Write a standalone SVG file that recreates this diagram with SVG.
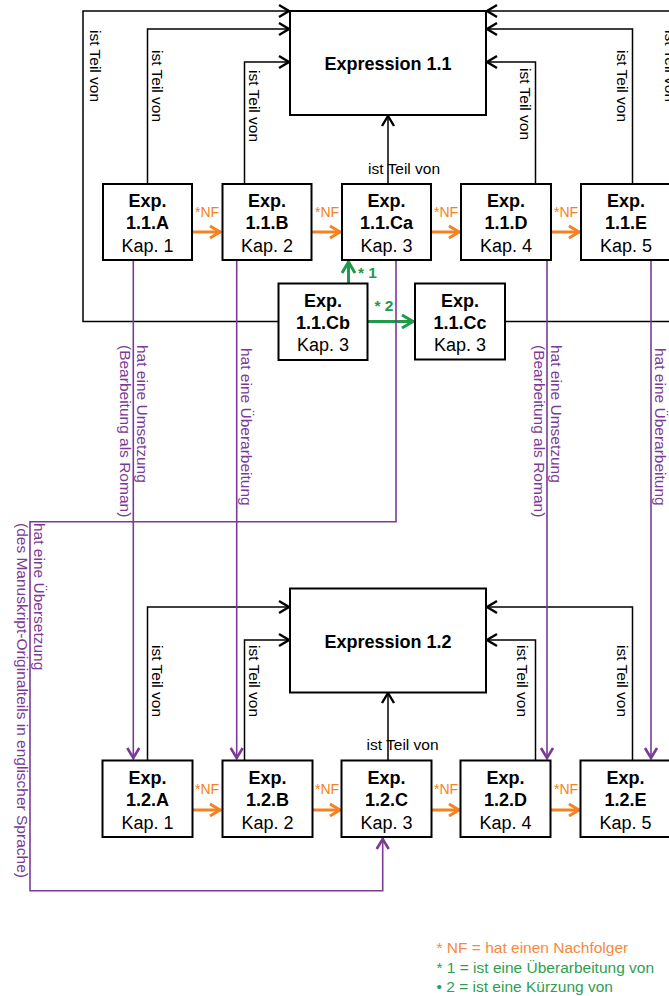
<svg xmlns="http://www.w3.org/2000/svg" width="669" height="996" viewBox="0 0 669 996">
<style>
text{font-family:"Liberation Sans",Arial,sans-serif}
.box{fill:#fff;stroke:#000;stroke-width:2}
.nb{font-size:18px;font-weight:bold;text-anchor:middle}
.nr{font-size:18px;text-anchor:middle}
.blk{fill:none;stroke:#000;stroke-width:1.5}
.org{fill:none;stroke:#F58220;stroke-width:3}
.grn{fill:none;stroke:#1E9A48;stroke-width:3}
.pur{fill:none;stroke:#7A3A96;stroke-width:1.6}
.lbl{font-size:15.5px;fill:#000}
.plbl{font-size:15.5px;fill:#7A3A96}
.nf{font-size:14px;fill:#F58220}
.gl{font-size:15.5px;font-weight:bold;fill:#1E9A48}
</style>
<defs>
<marker id="ab" viewBox="-12 -8 14 16" markerWidth="14" markerHeight="16" refX="0" refY="0" orient="auto" markerUnits="userSpaceOnUse"><path d="M-10,-6 L0,0 L-10,6" fill="none" stroke="#000" stroke-width="2.4"/></marker>
<marker id="ao" viewBox="-13 -8 15 16" markerWidth="15" markerHeight="16" refX="0" refY="0" orient="auto" markerUnits="userSpaceOnUse"><path d="M-11,-6 L-1,0 L-11,6" fill="none" stroke="#F58220" stroke-width="3"/></marker>
<marker id="ag" viewBox="-14 -9 16 18" markerWidth="16" markerHeight="18" refX="0" refY="0" orient="auto" markerUnits="userSpaceOnUse"><path d="M-12,-6.5 L-1,0 L-12,6.5" fill="none" stroke="#1E9A48" stroke-width="3"/></marker>
<marker id="ap" viewBox="-13 -8 15 16" markerWidth="15" markerHeight="16" refX="0" refY="0" orient="auto" markerUnits="userSpaceOnUse"><path d="M-11,-6 L-1,0 L-11,6" fill="none" stroke="#7A3A96" stroke-width="2.6"/></marker>
</defs>

<g id="connectors">
<path class="blk" d="M278,321.5 H83 V11 H289" marker-end="url(#ab)"/>
<path class="blk" d="M147.5,184 V29 H289" marker-end="url(#ab)"/>
<path class="blk" d="M244.5,184 V62 H289" marker-end="url(#ab)"/>
<path class="blk" d="M388,184 V116" marker-end="url(#ab)"/>
<path class="blk" d="M535.5,184 V62 H487" marker-end="url(#ab)"/>
<path class="blk" d="M632.5,184 V29 H487" marker-end="url(#ab)"/>
<path class="blk" d="M505,321.5 H690 V11 H487" marker-end="url(#ab)"/>
<path class="blk" d="M147.5,760.5 V607 H289" marker-end="url(#ab)"/>
<path class="blk" d="M244.5,760.5 V640 H289" marker-end="url(#ab)"/>
<path class="blk" d="M388,760.5 V693" marker-end="url(#ab)"/>
<path class="blk" d="M535.5,760.5 V640 H487" marker-end="url(#ab)"/>
<path class="blk" d="M632.5,760.5 V607 H487" marker-end="url(#ab)"/>
<path class="org" d="M192,232 H221" marker-end="url(#ao)"/>
<path class="org" d="M312,232 H341" marker-end="url(#ao)"/>
<path class="org" d="M431,232 H460" marker-end="url(#ao)"/>
<path class="org" d="M551,232 H580" marker-end="url(#ao)"/>
<path class="org" d="M192.5,810 H221" marker-end="url(#ao)"/>
<path class="org" d="M312.5,810 H341" marker-end="url(#ao)"/>
<path class="org" d="M431.5,810 H460" marker-end="url(#ao)"/>
<path class="org" d="M550.5,810 H580" marker-end="url(#ao)"/>
<path class="grn" d="M348.5,283 V261" marker-end="url(#ag)"/>
<path class="grn" d="M367,321.5 H414" marker-end="url(#ag)"/>
<path class="pur" d="M133.3,260 V759" marker-end="url(#ap)"/>
<path class="pur" d="M236.7,260 V759" marker-end="url(#ap)"/>
<path class="pur" d="M396,260 V521.7 H30 V890.7 H382.7 V838" marker-end="url(#ap)"/>
<path class="pur" d="M547,260 V759" marker-end="url(#ap)"/>
<path class="pur" d="M651,260 V759" marker-end="url(#ap)"/>

<text class="lbl" transform="translate(89.5,30) rotate(90)">ist Teil von</text>
<text class="lbl" transform="translate(151.5,50) rotate(90)">ist Teil von</text>
<text class="lbl" transform="translate(248.5,70) rotate(90)">ist Teil von</text>
<text class="lbl" transform="translate(519.5,68) rotate(90)">ist Teil von</text>
<text class="lbl" transform="translate(616.5,50) rotate(90)">ist Teil von</text>
<text class="lbl" transform="translate(664.5,30) rotate(90)">ist Teil von</text>
<text class="lbl" x="368" y="174">ist Teil von</text>
<text class="lbl" transform="translate(151.5,645) rotate(90)">ist Teil von</text>
<text class="lbl" transform="translate(248.5,645) rotate(90)">ist Teil von</text>
<text class="lbl" transform="translate(516.5,645) rotate(90)">ist Teil von</text>
<text class="lbl" transform="translate(616.5,645) rotate(90)">ist Teil von</text>
<text class="lbl" x="366.5" y="750">ist Teil von</text>

<text class="nf" x="195" y="217">*NF</text>
<text class="nf" x="315" y="217">*NF</text>
<text class="nf" x="434" y="217">*NF</text>
<text class="nf" x="554" y="217">*NF</text>
<text class="nf" x="195" y="794">*NF</text>
<text class="nf" x="315" y="794">*NF</text>
<text class="nf" x="434" y="794">*NF</text>
<text class="nf" x="554" y="794">*NF</text>

<text class="gl" x="358" y="277.5">* 1</text>
<text class="gl" x="374.5" y="311">* 2</text>

<text class="plbl" transform="translate(136.5,345) rotate(90)">hat eine Umsetzung</text>
<text class="plbl" transform="translate(119.5,345) rotate(90)">(Bearbeitung als Roman)</text>
<text class="plbl" transform="translate(241,348) rotate(90)">hat eine Überarbeitung</text>
<text class="plbl" transform="translate(33.5,523) rotate(90)">hat eine Übersetzung</text>
<text class="plbl" transform="translate(16.5,523) rotate(90)">(des Manuskript-Originalteils in englischer Sprache)</text>
<text class="plbl" transform="translate(550.5,345) rotate(90)">hat eine Umsetzung</text>
<text class="plbl" transform="translate(533.5,345) rotate(90)">(Bearbeitung als Roman)</text>
<text class="plbl" transform="translate(655,348) rotate(90)">hat eine Überarbeitung</text>
</g>

<g id="expr11"><rect class="box" x="290" y="11" width="196" height="104"/><text class="nb" x="388" y="70">Expression 1.1</text></g>
<g id="expr12"><rect class="box" x="290" y="588.5" width="196" height="104"/><text class="nb" x="388" y="647.5">Expression 1.2</text></g>

<g id="n11A"><rect class="box" x="103" y="184" width="89" height="76"/><text class="nb" x="147.5" y="207">Exp.</text><text class="nb" x="147.5" y="229">1.1.A</text><text class="nr" x="147.5" y="251.5">Kap. 1</text></g>
<g id="n11B"><rect class="box" x="222.5" y="184" width="89" height="76"/><text class="nb" x="267" y="207">Exp.</text><text class="nb" x="267" y="229">1.1.B</text><text class="nr" x="267" y="251.5">Kap. 2</text></g>
<g id="n11Ca"><rect class="box" x="342" y="184" width="89" height="76"/><text class="nb" x="386.5" y="207">Exp.</text><text class="nb" x="386.5" y="229">1.1.Ca</text><text class="nr" x="386.5" y="251.5">Kap. 3</text></g>
<g id="n11D"><rect class="box" x="461" y="184" width="90" height="76"/><text class="nb" x="506" y="207">Exp.</text><text class="nb" x="506" y="229">1.1.D</text><text class="nr" x="506" y="251.5">Kap. 4</text></g>
<g id="n11E"><rect class="box" x="581" y="184" width="90" height="76"/><text class="nb" x="626" y="207">Exp.</text><text class="nb" x="626" y="229">1.1.E</text><text class="nr" x="626" y="251.5">Kap. 5</text></g>
<g id="n11Cb"><rect class="box" x="278.5" y="283.5" width="89" height="76.5"/><text class="nb" x="323" y="306.5">Exp.</text><text class="nb" x="323" y="328.5">1.1.Cb</text><text class="nr" x="323" y="350.5">Kap. 3</text></g>
<g id="n11Cc"><rect class="box" x="415" y="283.5" width="90" height="76"/><text class="nb" x="460" y="306.5">Exp.</text><text class="nb" x="460" y="328.5">1.1.Cc</text><text class="nr" x="460" y="350.5">Kap. 3</text></g>

<g id="n12A"><rect class="box" x="102.5" y="760.5" width="90" height="76.5"/><text class="nb" x="147.5" y="784">Exp.</text><text class="nb" x="147.5" y="806">1.2.A</text><text class="nr" x="147.5" y="828.5">Kap. 1</text></g>
<g id="n12B"><rect class="box" x="222.5" y="760.5" width="90" height="76.5"/><text class="nb" x="267.5" y="784">Exp.</text><text class="nb" x="267.5" y="806">1.2.B</text><text class="nr" x="267.5" y="828.5">Kap. 2</text></g>
<g id="n12C"><rect class="box" x="341.5" y="760.5" width="90" height="76.5"/><text class="nb" x="386.5" y="784">Exp.</text><text class="nb" x="386.5" y="806">1.2.C</text><text class="nr" x="386.5" y="828.5">Kap. 3</text></g>
<g id="n12D"><rect class="box" x="460.5" y="760.5" width="90" height="76.5"/><text class="nb" x="505.5" y="784">Exp.</text><text class="nb" x="505.5" y="806">1.2.D</text><text class="nr" x="505.5" y="828.5">Kap. 4</text></g>
<g id="n12E"><rect class="box" x="580.5" y="760.5" width="90" height="76.5"/><text class="nb" x="625.5" y="784">Exp.</text><text class="nb" x="625.5" y="806">1.2.E</text><text class="nr" x="625.5" y="828.5">Kap. 5</text></g>

<g id="legend">
<text x="436.5" y="953" style="font-size:15.5px;fill:#F58A3C">* NF = hat einen Nachfolger</text>
<text x="436.5" y="972.5" style="font-size:15.5px;fill:#2E9E4F">* 1 = ist eine Überarbeitung von</text>
<text x="436.5" y="991.5" style="font-size:15.5px;fill:#2E9E4F">• 2 = ist eine Kürzung von</text>
</g>
</svg>
